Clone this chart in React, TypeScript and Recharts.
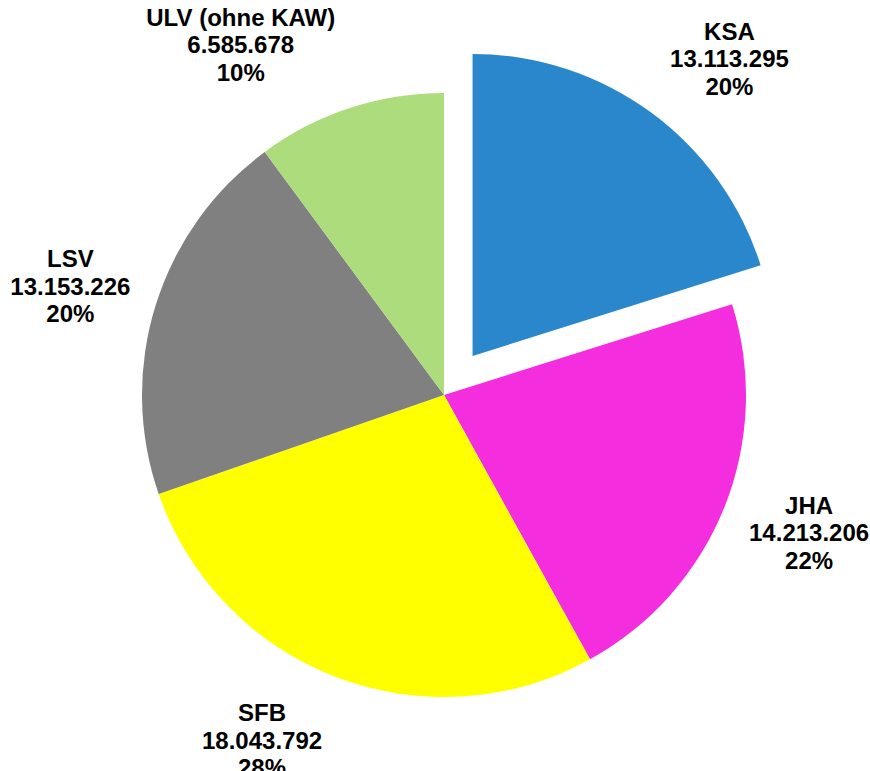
import React from "react";
import { PieChart, Pie, Cell, Sector } from "recharts";

const categories = ["KSA", "JHA", "SFB", "LSV", "ULV (ohne KAW)"];
const values = [13113295, 14213206, 18043792, 13153226, 6585678];
const colors = ["#2B87CB", "#F42DDF", "#FFFF00", "#808080", "#ADDC7D"];
const explodedIndex = 0;
const explodeFraction = 0.16;

const total = values.reduce((a, b) => a + b, 0);
const data = categories.map((name, i) => ({ name, value: values[i] }));

const formatDE = (v: number) => String(v).replace(/\B(?=(\d{3})+(?!\d))/g, ".");

const FONT_SIZE = 24;
const LINE_H = 27.5;
const charW: Record<string, number> = {
  ".": 0.278, "%": 0.889, " ": 0.278, "(": 0.333, ")": 0.333,
  A: 0.722, B: 0.722, F: 0.611, H: 0.722, J: 0.556, K: 0.722, L: 0.611,
  S: 0.667, U: 0.722, V: 0.667, W: 0.944, o: 0.611, h: 0.611, n: 0.611, e: 0.556,
};
const textWidth = (s: string) =>
  s.split("").reduce((a, c) => a + (charW[c] ?? (/\d/.test(c) ? 0.556 : 0.6)), 0) * FONT_SIZE;

const RAD = Math.PI / 180;

const renderShape = (props: any, idx?: number) => {
  const index = idx ?? props.index;
  let { cx, cy } = props;
  if (index === explodedIndex) {
    const off = props.outerRadius * explodeFraction;
    cx = cx + off * Math.cos(props.midAngle * RAD);
    cy = cy - off * Math.sin(props.midAngle * RAD);
  }
  return (
    <Sector
      cx={cx}
      cy={cy}
      innerRadius={props.innerRadius}
      outerRadius={props.outerRadius}
      startAngle={props.startAngle}
      endAngle={props.endAngle}
      fill={props.fill}
      stroke="none"
    />
  );
};

const renderLabel = (props: any) => {
  const { midAngle, outerRadius, index } = props;
  let { cx, cy } = props;
  const dx = Math.cos(midAngle * RAD);
  const dy = -Math.sin(midAngle * RAD);
  if (index === explodedIndex) {
    const off = outerRadius * explodeFraction;
    cx += off * dx;
    cy += off * dy;
  }
  const name = categories[index];
  const val = formatDE(values[index]);
  const pct = Math.round((values[index] / total) * 100) + "%";
  const w = Math.max(textWidth(name), textWidth(val), textWidth(pct));
  const h = LINE_H * 3;
  const R = outerRadius + 26;
  const lx = cx + R * dx + Math.sign(dx) * (w / 2 + 7 * (1 - Math.abs(dx)));
  const my = cy + R * dy + dy * (h / 2);
  const midBase = my + 9;
  return (
    <text
      key={`lbl-${index}`}
      x={lx}
      y={midBase - LINE_H}
      textAnchor="middle"
      fontFamily="'Liberation Sans', Arial, sans-serif"
      fontWeight="bold"
      fontSize={FONT_SIZE}
      fill="#000"
    >
      <tspan x={lx} dy={0}>{name}</tspan>
      <tspan x={lx} dy={LINE_H}>{val}</tspan>
      <tspan x={lx} dy={LINE_H}>{pct}</tspan>
    </text>
  );
};

export default function App() {
  return (
    <div style={{ position: "absolute", left: 0, top: 0, width: 870, height: 771, background: "#fff" }}>
      <PieChart width={870} height={771} margin={{ top: 0, right: 0, bottom: 0, left: 0 }}>
        <Pie
          data={data}
          dataKey="value"
          nameKey="name"
          cx={444}
          cy={395}
          outerRadius={302}
          startAngle={90}
          endAngle={-270}
          stroke="none"
          isAnimationActive={false}
          labelLine={false}
          label={renderLabel}
          shape={renderShape}
          activeShape={renderShape}
          inactiveShape={renderShape}
        >
          {data.map((d, i) => (
            <Cell key={d.name} fill={colors[i]} />
          ))}
        </Pie>
      </PieChart>
    </div>
  );
}
